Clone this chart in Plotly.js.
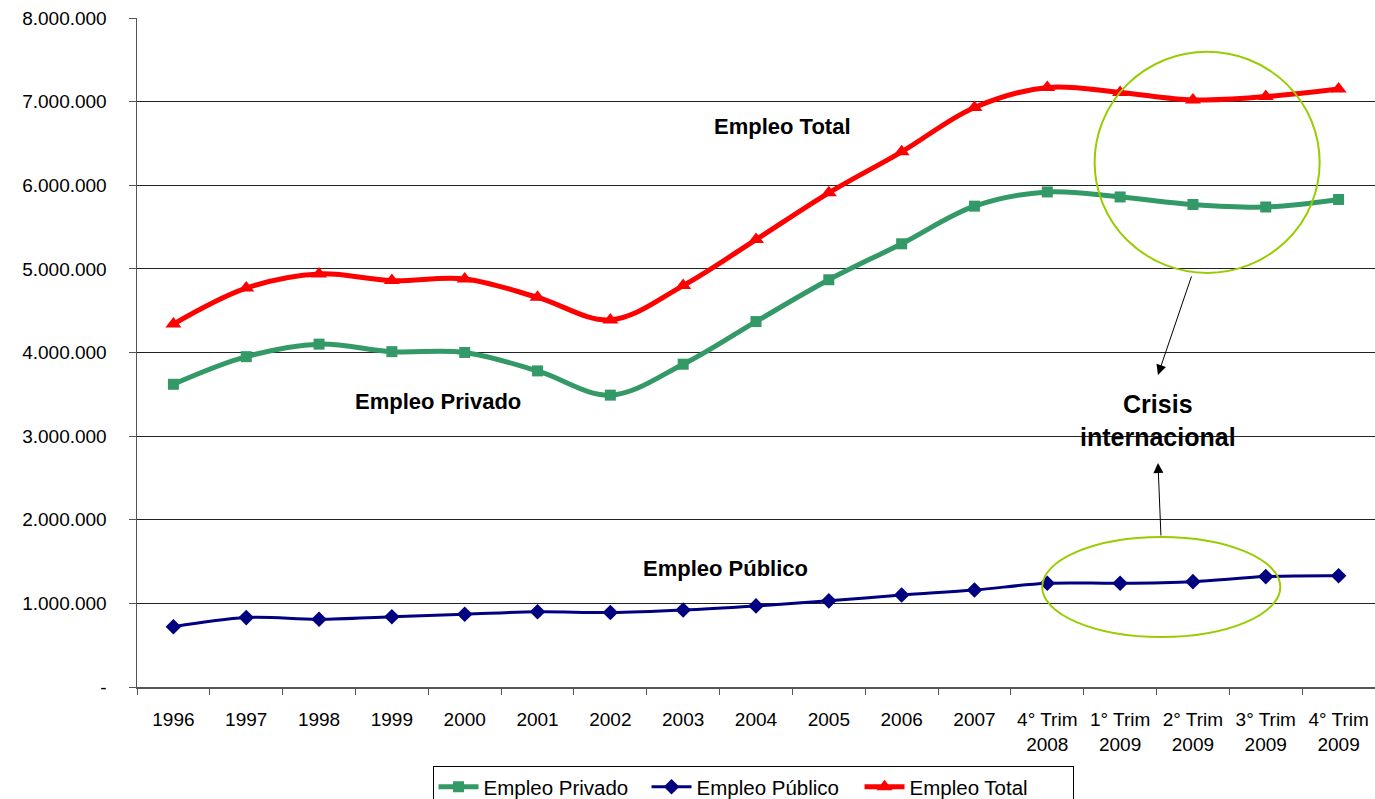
<!DOCTYPE html>
<html>
<head>
<meta charset="utf-8">
<script src="https://cdn.plot.ly/plotly-3.0.1.min.js"></script>
<style>html,body{margin:0;padding:0;background:#fff;}#chart{width:1375px;height:799px;}</style>
</head>
<body>
<div id="chart"></div>
<script>
const categories = ["1996","1997","1998","1999","2000","2001","2002","2003","2004","2005","2006","2007",
  "4° Trim<br>2008","1° Trim<br>2009","2° Trim<br>2009","3° Trim<br>2009","4° Trim<br>2009"];
const empleoPrivado = [3620000,3950000,4100000,4010000,4000000,3780000,3490000,3860000,4370000,4870000,5300000,5750000,5920000,5860000,5770000,5740000,5830000];
const empleoPublico = [720000,830000,810000,840000,870000,900000,890000,920000,970000,1030000,1100000,1160000,1240000,1240000,1260000,1320000,1330000];
const empleoTotal = [4340000,4770000,4940000,4860000,4880000,4660000,4390000,4800000,5350000,5910000,6400000,6930000,7170000,7110000,7020000,7060000,7150000];
const yTickVals = [0,1000000,2000000,3000000,4000000,5000000,6000000,7000000,8000000];
const yTickText = ["-","1.000.000","2.000.000","3.000.000","4.000.000","5.000.000","6.000.000","7.000.000","8.000.000"];
const seriesNames = ["Empleo Privado","Empleo Público","Empleo Total"];

const FONT = "Arial, 'Liberation Sans', sans-serif";

const traces = [
  {x: categories, y: empleoPrivado, name: seriesNames[0], mode: "lines+markers",
   line: {color: "#339966", width: 5, shape: "spline", smoothing: 1},
   marker: {symbol: "square", size: 11, color: "#339966"}},
  {x: categories, y: empleoPublico, name: seriesNames[1], mode: "lines+markers",
   line: {color: "#000080", width: 3, shape: "spline", smoothing: 1},
   marker: {symbol: "diamond", size: 12, color: "#000080"}},
  {x: categories, y: empleoTotal, name: seriesNames[2], mode: "lines+markers",
   line: {color: "#FF0000", width: 5, shape: "spline", smoothing: 1},
   marker: {symbol: "triangle-up", size: 14, color: "#FF0000"}}
];

const layout = {
  width: 1375, height: 799,
  paper_bgcolor: "#fff", plot_bgcolor: "#fff",
  margin: {l: 137, r: 0, t: 18, b: 112, autoexpand: false},
  font: {family: FONT, size: 19, color: "#000"},
  showlegend: true,
  legend: {orientation: "h", x: 0.4976, xanchor: "center", y: -0.118, yanchor: "top",
    bordercolor: "#000", borderwidth: 1, font: {family: FONT, size: 20.5, color: "#000"},
    itemwidth: 40, tracegroupgap: 0, entrywidth: 158, entrywidthmode: "pixels"},
  xaxis: {
    type: "category", range: [-0.5, 16.5],
    showgrid: false, zeroline: false, showline: true, linecolor: "#555", linewidth: 1.5,
    ticks: "outside", ticklen: 6, tickcolor: "#555", tickson: "boundaries",
    tickfont: {family: FONT, size: 19, color: "#000"}, ticklabelstandoff: 15, automargin: false
  },
  yaxis: {
    range: [0, 8000000], tickmode: "array", tickvals: yTickVals, ticktext: yTickText,
    showgrid: true, gridcolor: "#222", gridwidth: 1, zeroline: false,
    showline: true, linecolor: "#555", linewidth: 1.5,
    ticks: "outside", ticklen: 7, tickcolor: "#555",
    tickfont: {family: FONT, size: 19, color: "#000"}, ticklabelstandoff: 18, automargin: false
  },
  shapes: [
    {type: "circle", xref: "x", yref: "y", x0: 12.65, x1: 15.74, y0: 4952000, y1: 7596000,
     line: {color: "#99CC00", width: 2}},
    {type: "circle", xref: "x", yref: "y", x0: 11.93, x1: 15.20, y0: 598000, y1: 1794000,
     line: {color: "#99CC00", width: 2}}
  ],
  annotations: [
    {x: 8.37, y: 6700000, xref: "x", yref: "y", text: "<b>Empleo Total</b>", showarrow: false,
     font: {family: FONT, size: 22, color: "#000"}},
    {x: 3.63, y: 3420000, xref: "x", yref: "y", text: "<b>Empleo Privado</b>", showarrow: false,
     font: {family: FONT, size: 22, color: "#000"}},
    {x: 7.58, y: 1420000, xref: "x", yref: "y", text: "<b>Empleo Público</b>", showarrow: false,
     font: {family: FONT, size: 22, color: "#000"}},
    {x: 13.52, y: 3190000, xref: "x", yref: "y", text: "<b>Crisis<br>internacional</b>", showarrow: false,
     font: {family: FONT, size: 25, color: "#000"}},
    {x: 13.52, y: 3732000, xref: "x", yref: "y", text: "", showarrow: true, ax: 34, ay: -100,
     arrowhead: 2, arrowsize: 2, arrowwidth: 1, arrowcolor: "#000", standoff: 0},
    {x: 13.52, y: 2679000, xref: "x", yref: "y", text: "", showarrow: true, ax: 3, ay: 74,
     arrowhead: 2, arrowsize: 2, arrowwidth: 1, arrowcolor: "#000", standoff: 0}
  ]
};

Plotly.newPlot("chart", traces, layout, {displayModeBar: false, staticPlot: true});
</script>
</body>
</html>
